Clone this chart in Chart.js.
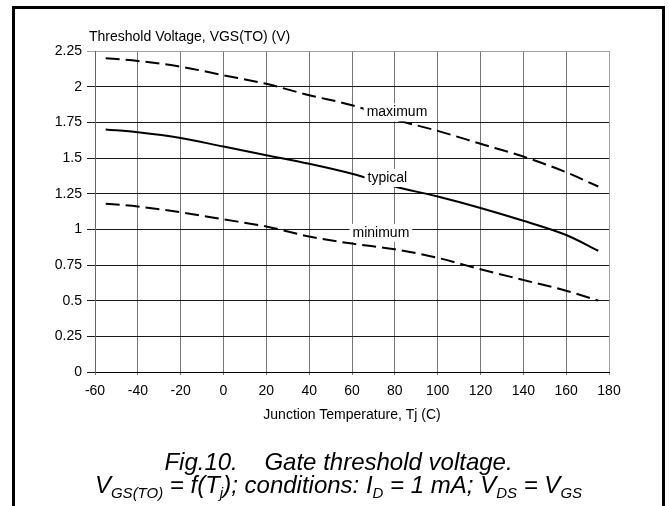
<!DOCTYPE html>
<html>
<head>
<meta charset="utf-8">
<script src="https://cdn.jsdelivr.net/npm/chart.js@4"></script>
<style>
  html, body { margin: 0; padding: 0; background: #fff; width: 669px; height: 506px; overflow: hidden; }
  #frame { position: absolute; left: 12px; top: 6px; width: 647px; height: 600px; border: 3px solid #000; }
  #c { position: absolute; left: 0; top: 0; }
  #caption { position: absolute; left: 12px; width: 653px; top: 450px; text-align: center;
    font-family: "Liberation Sans", Arial, sans-serif; font-style: italic; font-size: 24px; line-height: 23px; color: #000; }
  #caption sub { font-size: 15px; vertical-align: -5px; line-height: 0; }
</style>
</head>
<body>
<div id="frame"></div>
<canvas id="c" width="669" height="506"></canvas>
<div id="caption">Fig.10.&nbsp;&nbsp;&nbsp; Gate threshold voltage.<br>V<sub>GS(TO)</sub> = f(T<sub>j</sub>); conditions: I<sub>D</sub> = 1 mA; V<sub>DS</sub> = V<sub>GS</sub></div>
<script>
// ---- data ----
const temperatures = [-55, -40, -20, 0, 20, 40, 60, 80, 100, 120, 140, 160, 175];
const maximumV = [2.20, 2.18, 2.14, 2.08, 2.02, 1.94, 1.87, 1.77, 1.69, 1.60, 1.51, 1.40, 1.30];
const typicalV = [1.70, 1.68, 1.64, 1.58, 1.52, 1.46, 1.39, 1.30, 1.23, 1.15, 1.06, 0.96, 0.85];
const minimumV = [1.18, 1.16, 1.12, 1.07, 1.02, 0.95, 0.90, 0.86, 0.80, 0.72, 0.645, 0.57, 0.50];
const xTickLabels = ['-60', '-40', '-20', '0', '20', '40', '60', '80', '100', '120', '140', '160', '180'];
const yTickLabels = ['0', '0.25', '0.5', '0.75', '1', '1.25', '1.5', '1.75', '2', '2.25'];
const curveNames = ['maximum', 'typical', 'minimum'];
const labelTemps = [81, 76.5, 73.5];
const labelVolts = [1.82, 1.36, 0.975];
const yAxisTitle = 'Threshold Voltage, VGS(TO) (V)';
const xAxisTitle = 'Junction Temperature, Tj (C)';

const FONT = '"Liberation Sans", Arial, sans-serif';
const toPts = arr => temperatures.map((t, i) => ({ x: t, y: arr[i] }));

const curveLabels = {
  id: 'curveLabels',
  afterDatasetsDraw(chart) {
    const { ctx, scales: { x, y } } = chart;
    ctx.save();
    ctx.font = '14px ' + FONT;
    ctx.textAlign = 'center';
    ctx.textBaseline = 'middle';
    curveNames.forEach((name, i) => {
      const px = x.getPixelForValue(labelTemps[i]);
      const py = y.getPixelForValue(labelVolts[i]);
      const w = ctx.measureText(name).width;
      ctx.fillStyle = '#fff';
      ctx.fillRect(px - w / 2 - 3, py - 9, w + 6, 18);
      ctx.fillStyle = '#000';
      ctx.fillText(name, px, py);
    });
    ctx.restore();
  }
};

const axisTitles = {
  id: 'axisTitles',
  afterDraw(chart) {
    const { ctx, chartArea } = chart;
    ctx.save();
    ctx.font = '14px ' + FONT;
    ctx.fillStyle = '#000';
    ctx.textBaseline = 'middle';
    ctx.textAlign = 'left';
    ctx.fillText(yAxisTitle, chartArea.left - 6, chartArea.top - 14);
    ctx.textAlign = 'center';
    ctx.fillText(xAxisTitle, (chartArea.left + chartArea.right) / 2, chartArea.bottom + 43);
    ctx.restore();
  }
};

const common = { fill: false, pointRadius: 0, borderColor: '#000', borderWidth: 2, cubicInterpolationMode: 'monotone' };

new Chart(document.getElementById('c'), {
  type: 'line',
  data: {
    datasets: [
      Object.assign({ label: curveNames[0], data: toPts(maximumV), borderDash: [14, 6] }, common),
      Object.assign({ label: curveNames[1], data: toPts(typicalV) }, common),
      Object.assign({ label: curveNames[2], data: toPts(minimumV), borderDash: [14, 6] }, common)
    ]
  },
  options: {
    responsive: false,
    animation: false,
    devicePixelRatio: 1,
    layout: { padding: { left: 0, top: 51, right: 60, bottom: 94 } },
    plugins: { legend: { display: false }, tooltip: { enabled: false }, title: { display: false } },
    scales: {
      x: {
        type: 'linear', min: -60, max: 180,
        ticks: { stepSize: 20, autoSkip: false, maxRotation: 0, padding: 8, color: '#000',
          font: { family: FONT, size: 14 }, callback: (v, i) => xTickLabels[i] },
        grid: { tickLength: 3, lineWidth: 1,
          color: c => (c.tick && c.tick.value === 180) ? '#a0a0a0' : '#777' },
        border: { display: true, color: '#000', width: 1 },
        afterFit: s => { s.height = 40; }
      },
      y: {
        type: 'linear', min: 0, max: 2.25,
        ticks: { stepSize: 0.25, autoSkip: false, padding: 5, color: '#000',
          font: { family: FONT, size: 14 }, callback: (v, i) => yTickLabels[i] },
        grid: { tickLength: 8, lineWidth: 1,
          color: c => (c.tick && c.tick.value === 2.25) ? '#a0a0a0' : '#1a1a1a' },
        border: { display: true, color: '#666', width: 1 },
        afterFit: s => { s.width = 95; }
      }
    }
  },
  plugins: [curveLabels, axisTitles]
});
</script>
</body>
</html>
